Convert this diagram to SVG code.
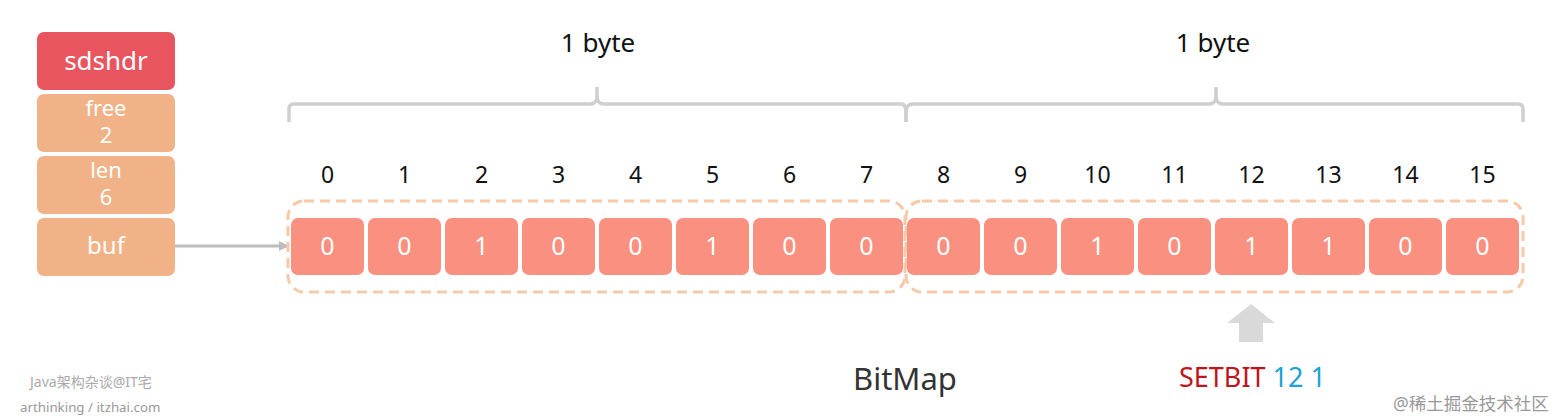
<svg xmlns="http://www.w3.org/2000/svg" width="1558" height="420" viewBox="0 0 1558 420">
<defs>
<style>
text{font-family:"Noto Sans","Noto Sans CJK SC",sans-serif}
.hdr{fill:#e8555e}
.fld{fill:#f2b287}
.wt{fill:#fff;text-anchor:middle}
.cell{fill:#fa9080}
.idx{fill:#111;font-size:23px;text-anchor:middle}
.brace{fill:none;stroke:#cfcfcf;stroke-width:3.5;stroke-linejoin:round}
.grp{fill:none;stroke:#f6caa8;stroke-width:3;stroke-dasharray:10 6}
</style>
<marker id="ah" markerWidth="10" markerHeight="10" refX="9" refY="5" orient="auto" markerUnits="userSpaceOnUse">
<path d="M0,0 L10,5 L0,10 z" fill="#bdbdbd"/>
</marker>
</defs>
<rect width="1558" height="420" fill="#fff"/>

<g id="sdshdr"><rect class="hdr" x="37" y="32" width="138" height="58" rx="7"/><text class="wt" x="106" y="70" font-size="26">sdshdr</text></g>
<g id="free"><rect class="fld" x="37" y="94" width="138" height="58" rx="7"/><text class="wt" x="106" y="116" font-size="22">free</text><text class="wt" x="106" y="143" font-size="22">2</text></g>
<g id="len"><rect class="fld" x="37" y="156" width="138" height="58" rx="7"/><text class="wt" x="106" y="178" font-size="22">len</text><text class="wt" x="106" y="205" font-size="22">6</text></g>
<g id="buf"><rect class="fld" x="37" y="218" width="138" height="58" rx="7"/><text class="wt" x="106" y="254" font-size="24">buf</text></g>

<g id="connectors">
<line x1="175" y1="246" x2="288" y2="246" stroke="#bdbdbd" stroke-width="3" marker-end="url(#ah)"/>
</g>

<g id="braces">
<path class="brace" d="M289,122 V109 Q289,104 294,104 H590 Q597,104 597,96 V87 M597,96 Q597,104 604,104 H901 Q906,104 906,112 V122"/>
<path class="brace" d="M906,122 V112 Q906,104 913,104 H1209 Q1216,104 1216,96 V87 M1216,96 Q1216,104 1223,104 H1518 Q1523,104 1523,109 V122"/>
<text x="598" y="52" font-size="26" fill="#111" text-anchor="middle">1 byte</text>
<text x="1213" y="52" font-size="26" fill="#111" text-anchor="middle">1 byte</text>
</g>

<g id="bitmap">
<rect class="grp" x="288" y="201" width="617" height="91" rx="16"/>
<rect class="grp" x="906" y="201" width="617" height="91" rx="16"/>
<g id="cell0"><rect class="cell" x="291" y="218" width="73" height="57" rx="7"/><text class="wt" x="327.5" y="255" font-size="25">0</text><text class="idx" x="327.5" y="183">0</text></g>
<g id="cell1"><rect class="cell" x="368" y="218" width="73" height="57" rx="7"/><text class="wt" x="404.5" y="255" font-size="25">0</text><text class="idx" x="404.5" y="183">1</text></g>
<g id="cell2"><rect class="cell" x="445" y="218" width="73" height="57" rx="7"/><text class="wt" x="481.5" y="255" font-size="25">1</text><text class="idx" x="481.5" y="183">2</text></g>
<g id="cell3"><rect class="cell" x="522" y="218" width="73" height="57" rx="7"/><text class="wt" x="558.5" y="255" font-size="25">0</text><text class="idx" x="558.5" y="183">3</text></g>
<g id="cell4"><rect class="cell" x="599" y="218" width="73" height="57" rx="7"/><text class="wt" x="635.5" y="255" font-size="25">0</text><text class="idx" x="635.5" y="183">4</text></g>
<g id="cell5"><rect class="cell" x="676" y="218" width="73" height="57" rx="7"/><text class="wt" x="712.5" y="255" font-size="25">1</text><text class="idx" x="712.5" y="183">5</text></g>
<g id="cell6"><rect class="cell" x="753" y="218" width="73" height="57" rx="7"/><text class="wt" x="789.5" y="255" font-size="25">0</text><text class="idx" x="789.5" y="183">6</text></g>
<g id="cell7"><rect class="cell" x="830" y="218" width="73" height="57" rx="7"/><text class="wt" x="866.5" y="255" font-size="25">0</text><text class="idx" x="866.5" y="183">7</text></g>
<g id="cell8"><rect class="cell" x="907" y="218" width="73" height="57" rx="7"/><text class="wt" x="943.5" y="255" font-size="25">0</text><text class="idx" x="943.5" y="183">8</text></g>
<g id="cell9"><rect class="cell" x="984" y="218" width="73" height="57" rx="7"/><text class="wt" x="1020.5" y="255" font-size="25">0</text><text class="idx" x="1020.5" y="183">9</text></g>
<g id="cell10"><rect class="cell" x="1061" y="218" width="73" height="57" rx="7"/><text class="wt" x="1097.5" y="255" font-size="25">1</text><text class="idx" x="1097.5" y="183">10</text></g>
<g id="cell11"><rect class="cell" x="1138" y="218" width="73" height="57" rx="7"/><text class="wt" x="1174.5" y="255" font-size="25">0</text><text class="idx" x="1174.5" y="183">11</text></g>
<g id="cell12"><rect class="cell" x="1215" y="218" width="73" height="57" rx="7"/><text class="wt" x="1251.5" y="255" font-size="25">1</text><text class="idx" x="1251.5" y="183">12</text></g>
<g id="cell13"><rect class="cell" x="1292" y="218" width="73" height="57" rx="7"/><text class="wt" x="1328.5" y="255" font-size="25">1</text><text class="idx" x="1328.5" y="183">13</text></g>
<g id="cell14"><rect class="cell" x="1369" y="218" width="73" height="57" rx="7"/><text class="wt" x="1405.5" y="255" font-size="25">0</text><text class="idx" x="1405.5" y="183">14</text></g>
<g id="cell15"><rect class="cell" x="1446" y="218" width="73" height="57" rx="7"/><text class="wt" x="1482.5" y="255" font-size="25">0</text><text class="idx" x="1482.5" y="183">15</text></g>
</g>

<g id="setbit-arrow"><path d="M1251,304 L1275,323 H1263 V342 H1239 V323 H1227 z" fill="#d9d9d9"/></g>

<text x="853" y="390" font-size="31" fill="#333">BitMap</text>
<text x="1179" y="387" font-size="27"><tspan fill="#c0141c">SETBIT </tspan><tspan fill="#1ba2d8">12 1</tspan></text>

<text x="30" y="387" font-size="14" fill="#aaa">Java架构杂谈@IT宅</text>
<text x="20" y="412" font-size="13.3" fill="#999">arthinking / itzhai.com</text>
<text x="1393" y="410" font-size="17.5" fill="#999">@稀土掘金技术社区</text>
</svg>
